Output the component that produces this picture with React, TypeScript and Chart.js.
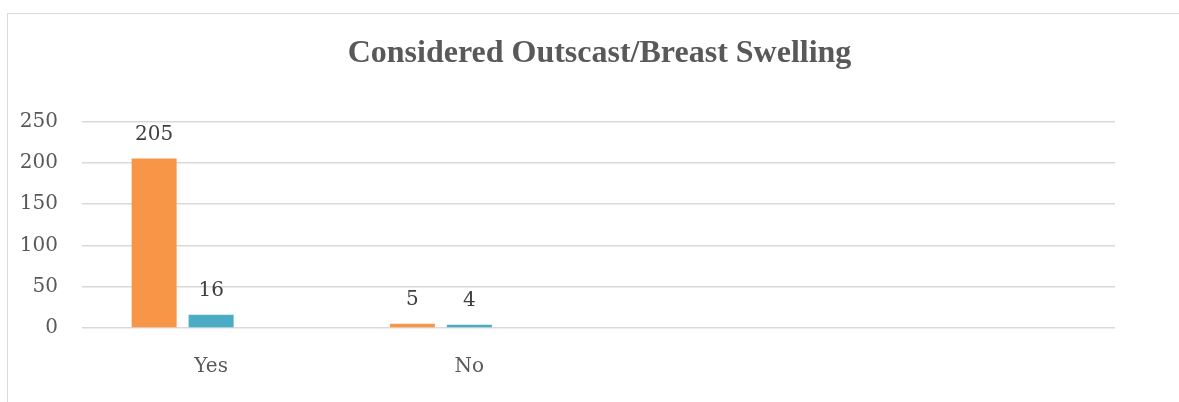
import React, { useEffect, useRef } from "react";
import { Chart, registerables } from "chart.js";

Chart.register(...registerables);

const titleText = "Considered Outscast/Breast Swelling";
const categories = ["Yes", "No", "", ""];
const seriesA = [205, 5, null, null];
const seriesB = [16, 4, null, null];
const seriesC = [null, null, null, null];
const yTicks = [0, 50, 100, 150, 200, 250];

const tickFont = { family: "'DejaVu Serif', serif", size: 20 };

const valueLabels = {
  id: "valueLabels",
  afterDatasetsDraw(chart: any) {
    const ctx = chart.ctx;
    ctx.save();
    ctx.font = "20px 'DejaVu Serif', serif";
    ctx.fillStyle = "#404040";
    ctx.textAlign = "center";
    ctx.textBaseline = "middle";
    chart.data.datasets.forEach((ds: any, i: number) => {
      const meta = chart.getDatasetMeta(i);
      meta.data.forEach((bar: any, j: number) => {
        const v = ds.data[j];
        if (v === null || v === undefined) return;
        ctx.fillText(String(v), bar.x, bar.y - 24);
      });
    });
    ctx.restore();
  },
};

export default function App() {
  const ref = useRef<HTMLCanvasElement>(null);
  useEffect(() => {
    if (!ref.current) return;
    const chart = new Chart(ref.current, {
      type: "bar",
      data: {
        labels: categories,
        datasets: [
          { label: "A", data: seriesA, backgroundColor: "#F79646" },
          { label: "B", data: seriesB, backgroundColor: "#4BACC6" },
          { label: "C", data: seriesC, backgroundColor: "#A5A5A5" },
        ],
      },
      options: {
        animation: false,
        responsive: false,
        devicePixelRatio: 1,
        layout: { padding: 0 },
        datasets: { bar: { categoryPercentage: 0.662, barPercentage: 0.79 } },
        plugins: {
          legend: { display: false },
          tooltip: { enabled: false },
          title: {
            display: true,
            text: titleText,
            color: "#595959",
            font: { family: "'Liberation Serif', serif", size: 32, weight: "bold" },
            padding: { top: 21, bottom: 48 },
          },
        },
        scales: {
          x: {
            grid: { display: false },
            border: { display: false },
            ticks: { color: "#595959", font: tickFont, padding: 19 },
            afterFit: (s: any) => {
              s.height = 74;
            },
          },
          y: {
            min: 0,
            max: 250,
            afterBuildTicks: (s: any) => {
              s.ticks = yTicks.map((v) => ({ value: v }));
            },
            grid: { color: "#d9d9d9", lineWidth: 1.5, drawTicks: false },
            border: { display: false },
            ticks: { color: "#595959", font: tickFont, padding: 24 },
            afterFit: (s: any) => {
              s.width = 73;
            },
          },
          yRight: {
            position: "right",
            min: 0,
            max: 250,
            grid: { display: false, drawTicks: false },
            border: { display: false },
            ticks: { display: false },
            afterFit: (s: any) => {
              s.width = 75;
            },
          },
        },
      },
      plugins: [valueLabels],
    });
    return () => chart.destroy();
  }, []);
  return (
    <div
      style={{
        position: "fixed",
        left: 0,
        top: 0,
        width: 1179,
        height: 402,
        overflow: "hidden",
        background: "#ffffff",
      }}
    >
      <div
        style={{
          position: "absolute",
          left: 7,
          top: 13,
          width: 1200,
          height: 400,
          borderTop: "1px solid #d9d9d9",
          borderLeft: "1px solid #d9d9d9",
        }}
      >
        <canvas
          ref={ref}
          width={1181}
          height={388}
          style={{ position: "absolute", left: 1, top: 0, width: 1181, height: 388 }}
        />
      </div>
    </div>
  );
}
